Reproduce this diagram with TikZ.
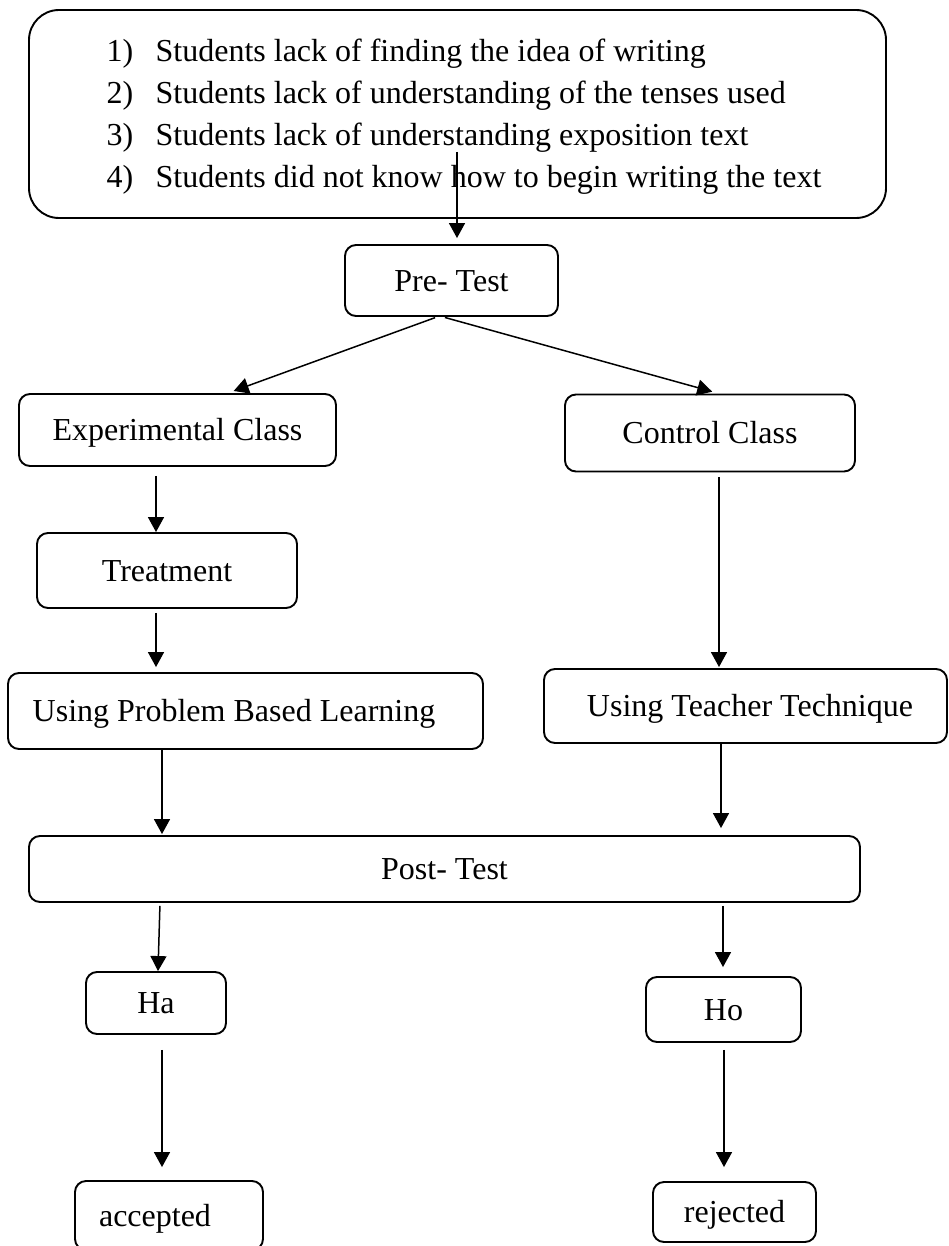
\documentclass[tikz,border=0pt]{standalone}
\usepackage{fontspec}
\setmainfont{Liberation Serif}
\usetikzlibrary{arrows.meta}
\begin{document}
\begin{tikzpicture}[x=1pt,y=-1pt,
  frame/.style={draw, line width=1.9pt, inner sep=0pt,
    font=\fontsize{32}{41.7}\selectfont},
  box/.style={frame, rounded corners=11pt, text height=21pt, text depth=0pt},
  arr/.style={line width=1.5pt, -{Triangle[length=15pt,width=16pt]}}]

% page area
\useasboundingbox (0,0) rectangle (949,1246);
\clip (0,0) rectangle (949,1246);
\fill[white] (0,0) rectangle (949,1246);

% problem statement
\node[frame, rounded corners=30pt, minimum width=857pt, minimum height=208pt, align=left]
  (issues) at (457.5,114)
  {\rule{0pt}{28pt}\hspace*{13pt}\makebox[49pt][l]{1)}Students lack of finding the idea of writing\\
   \hspace*{13pt}\makebox[49pt][l]{2)}Students lack of understanding of the tenses used\\
   \hspace*{13pt}\makebox[49pt][l]{3)}Students lack of understanding exposition text\\
   \hspace*{13pt}\makebox[49pt][l]{4)}Students did not know how to begin writing the text};

% flow boxes
\node[box, minimum width=213pt, minimum height=71pt] (pre)   at (451.5,280.5) {Pre- Test};
\node[box, minimum width=317pt, minimum height=72pt] (exp)   at (177.5,430)   {Experimental Class};
\node[box, minimum width=290pt, minimum height=77pt] (ctrl)  at (710,433)     {Control Class};
\node[box, minimum width=260pt, minimum height=75pt] (treat) at (167,570.5)   {Treatment};
\node[box, minimum width=475pt, minimum height=76pt] (pbl)   at (245.5,711)   {Using Problem Based Learning\hspace*{23pt}};
\node[box, minimum width=403pt, minimum height=74pt] (teach) at (745.5,706)   {\hspace*{9pt}Using Teacher Technique};
\node[box, minimum width=831pt, minimum height=66pt] (post)  at (444.5,869)   {Post- Test};
\node[box, minimum width=140pt, minimum height=62pt] (ha)    at (156,1003)    {Ha};
\node[box, minimum width=155pt, minimum height=65pt] (ho)    at (723.5,1009.5){Ho};
\node[box, minimum width=188pt, minimum height=69pt] (acc)   at (169,1215.5)  {accepted\hspace*{28pt}};
\node[box, minimum width=163pt, minimum height=60pt] (rej)   at (734.5,1212)  {rejected};

% vertical connector columns
\coordinate (cTop) at (457,152);
\coordinate (cA) at (156,0);
\coordinate (cB) at (719,0);
\coordinate (cC) at (162,0);
\coordinate (cD) at (721,0);
\coordinate (cE) at (723,0);
\coordinate (cF) at (724,0);

% connectors
\draw[arr, shorten >=6pt] (cTop) -- (pre.north -| cTop);
\draw[arr, shorten <=2pt, shorten >=6pt] ([xshift=-14.5pt]pre.south) -- ([xshift=50.5pt]exp.north);
\draw[arr, shorten <=2pt, shorten >=7pt] ([xshift=-8.5pt]pre.south) -- ([xshift=9pt]ctrl.north);
\draw[arr, shorten <=9pt] (exp.south -| cA) -- (treat.north -| cA);
\draw[arr, shorten <=4pt, shorten >=5pt] (treat.south -| cA) -- (pbl.north -| cA);
\draw[arr, shorten <=5pt, shorten >=1pt] (ctrl.south -| cB) -- (teach.north -| cB);
\draw[arr, shorten >=1pt] (pbl.south -| cC) -- (post.north -| cC);
\draw[arr, shorten >=7pt] (teach.south -| cD) -- (post.north -| cD);
\draw[arr, shorten <=3pt] ([xshift=-284.5pt]post.south) -- ([xshift=2pt]ha.north);
\draw[arr, shorten <=3pt, shorten >=9pt] (post.south -| cE) -- (ho.north -| cE);
\draw[arr, shorten <=15pt, shorten >=13pt] (ha.south -| cC) -- (acc.north -| cC);
\draw[arr, shorten <=7pt, shorten >=14pt] (ho.south -| cF) -- (rej.north -| cF);
\end{tikzpicture}
\end{document}
